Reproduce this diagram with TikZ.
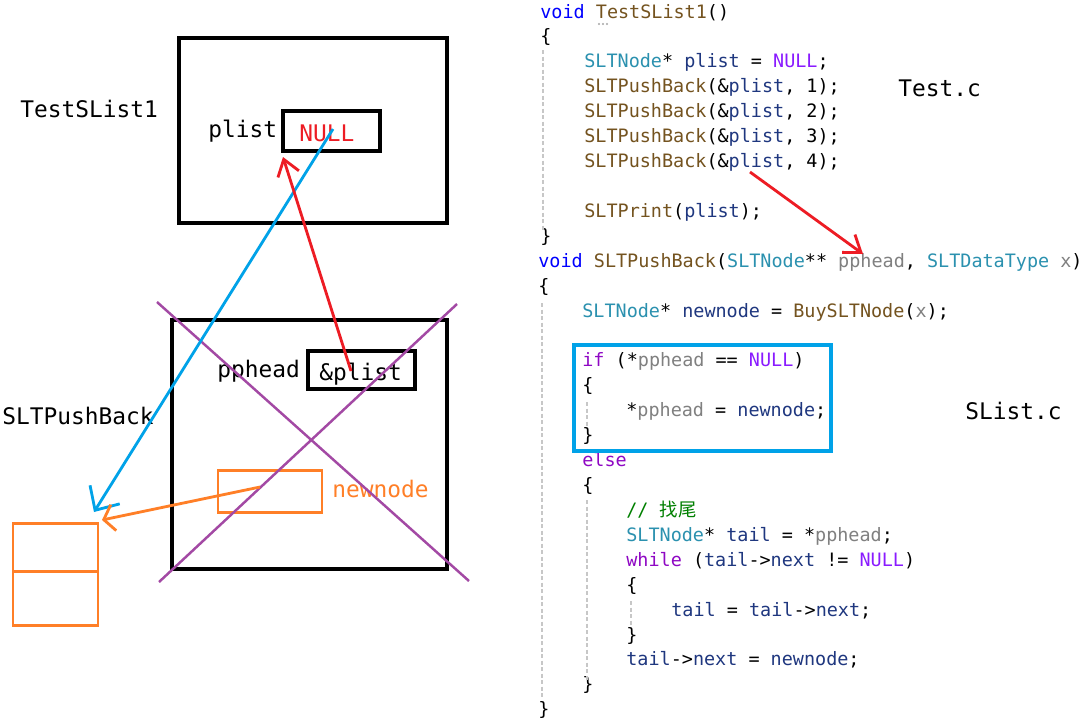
\documentclass[tikz,border=0pt]{standalone}
\usepackage{fontspec}
\usetikzlibrary{positioning,fit,arrows.meta}

\newfontfamily\codefont{DejaVu Sans Mono}
\newfontfamily\cjkfont{Noto Sans CJK SC}

% editor colours
\definecolor{kwblue}{RGB}{0,0,255}
\definecolor{ctlpurple}{RGB}{143,8,196}
\definecolor{macviolet}{RGB}{138,27,255}
\definecolor{typeteal}{RGB}{43,145,175}
\definecolor{funcbrown}{RGB}{116,83,31}
\definecolor{varnavy}{RGB}{31,55,127}
\definecolor{pargray}{RGB}{128,128,128}
\definecolor{comgreen}{RGB}{0,128,0}
% pen colours
\definecolor{pred}{RGB}{237,28,36}
\definecolor{pblue}{RGB}{0,162,232}
\definecolor{porange}{RGB}{255,127,39}
\definecolor{ppurple}{RGB}{163,73,164}

\newcommand{\cKw}[1]{\textcolor{kwblue}{#1}}
\newcommand{\cCtl}[1]{\textcolor{ctlpurple}{#1}}
\newcommand{\cMac}[1]{\textcolor{macviolet}{#1}}
\newcommand{\cTy}[1]{\textcolor{typeteal}{#1}}
\newcommand{\cFn}[1]{\textcolor{funcbrown}{#1}}
\newcommand{\cVar}[1]{\textcolor{varnavy}{#1}}
\newcommand{\cPar}[1]{\textcolor{pargray}{#1}}
\newcommand{\cCom}[1]{\textcolor{comgreen}{#1}}

\begin{document}
\begin{tikzpicture}[
  x=0.02cm, y=-0.02cm,
  code/.style={anchor=base west, inner sep=0, font={\codefont\fontsize{10.5}{12}\selectfont}},
  lbl/.style={anchor=base west, inner sep=0, font={\codefont\fontsize{13}{15}\selectfont}},
  frame/.style={draw, line width=2pt, inner sep=0},
  cell/.style={draw, line width=1.9pt, inner sep=0},
  ocell/.style={draw=porange, line width=1.7pt, inner sep=0},
  guide/.style={draw=black!22, line width=0.6pt, dash pattern=on 2.5pt off 1.2pt},
  cross/.style={draw=ppurple, line width=1.4pt},
  redarr/.style={draw=pred, line width=1.6pt, -{Straight Barb[length=0.31cm,width=0.44cm]}},
  bluearr/.style={draw=pblue, line width=1.6pt, -{Straight Barb[length=0.37cm,width=0.7cm]}},
  orgarr/.style={draw=porange, line width=1.6pt, -{Straight Barb[length=0.2cm,width=0.53cm]}},
]
\fill[white] (0,0) rectangle (1084,725);
\useasboundingbox (0,0) rectangle (1084,725);

% stack frames
\node[frame, fit={(179,38)(447,223)}] (testframe) {};
\node[frame, fit={(172,320)(447,569)}] (pushframe) {};
\node[lbl] (testname) at (20,117) {TestSList1};
\node[lbl] (pushname) at (2,424) {SLTPushBack};

\node[cell, fit={(283,111)(380,151)}] (plistbox) {};
\node[lbl] (plistlbl) at (208,137) {plist};
\node[lbl, text=pred] (nulltxt) at (299,141.5) {NULL};

\node[cell, fit={(308,351)(415,389)}] (ppheadbox) {};
\node[lbl] (ppheadlbl) at (217,377) {pphead};
\node[lbl] (addrtxt) at (319,380) {\&plist};

\node[ocell, fit={(218,470)(322,512)}] (newbox) {};
\node[lbl, text=porange] (newlbl) at (332,497) {newnode};

% new list node
\node[ocell, fit={(13,523)(98,571)}] (listdata) {};
\node[ocell, fit={(13,571)(98,625)}] (listnext) {};

% pointer ends
\coordinate (nullin) at (333,129);
\coordinate (listtip) at (94,512);
\coordinate (addrin) at (351,371);
\coordinate (plisttip) at (283,157);
\coordinate (newin) at (260,487);
\coordinate (newtip) at (102,520);
\coordinate (callin) at (750,172);
\coordinate (paramtip) at (863,254);

% frame crossed out
\coordinate (xa) at (157,302);
\coordinate (xb) at (469,581);
\coordinate (xc) at (159,582);
\coordinate (xd) at (457,304);
\draw[cross] (xa) -- (xb);
\draw[cross] (xc) -- (xd);

% code
\node[code] (c0) at (540,18) {\cKw{void} \cFn{TestSList1}()};
\foreach \dx in {599,603,607} \fill[black!35] (\dx,24) circle (0.6pt);
\node[code] (c1) at (540,42.9) {\{};
\node[code] (c2) at (584,67.8) {\cTy{SLTNode}* \cVar{plist} = \cMac{NULL};};
\node[code] (c3) at (584,92.8) {\cFn{SLTPushBack}(\&\cVar{plist}, 1);};
\node[code] (c4) at (584,117.7) {\cFn{SLTPushBack}(\&\cVar{plist}, 2);};
\node[code] (c5) at (584,142.6) {\cFn{SLTPushBack}(\&\cVar{plist}, 3);};
\node[code] (c6) at (584,167.5) {\cFn{SLTPushBack}(\&\cVar{plist}, 4);};
\node[code] (c8) at (584,217.4) {\cFn{SLTPrint}(\cVar{plist});};
\node[code] (c9) at (540,242.3) {\}};
\node[code] (c10) at (538,267.2) {\cKw{void} \cFn{SLTPushBack}(\cTy{SLTNode}** \cPar{pphead}, \cTy{SLTDataType} \cPar{x})};
\node[code] (c11) at (538,292.1) {\{};
\node[code] (c12) at (582,317) {\cTy{SLTNode}* \cVar{newnode} = \cFn{BuySLTNode}(\cPar{x});};
\node[code] (c14) at (582,366.9) {\cCtl{if} (*\cPar{pphead} == \cMac{NULL})};
\node[code] (c15) at (582,391.8) {\{};
\node[code] (c16) at (626,416.7) {*\cPar{pphead} = \cVar{newnode};};
\node[code] (c17) at (582,441.6) {\}};
\node[code] (c18) at (582,466.6) {\cCtl{else}};
\node[code] (c19) at (582,491.5) {\{};
\node[code] (c20) at (626,516.4) {\cCom{// {\cjkfont 找尾}}};
\node[code] (c21) at (626,541.3) {\cTy{SLTNode}* \cVar{tail} = *\cPar{pphead};};
\node[code] (c22) at (626,566.2) {\cCtl{while} (\cVar{tail}->\cVar{next} != \cMac{NULL})};
\node[code] (c23) at (626,591.2) {\{};
\node[code] (c24) at (671,616.1) {\cVar{tail} = \cVar{tail}->\cVar{next};};
\node[code] (c25) at (626,641) {\}};
\node[code] (c26) at (626,665.9) {\cVar{tail}->\cVar{next} = \cVar{newnode};};
\node[code] (c27) at (582,690.8) {\}};
\node[code] (c28) at (538,715.8) {\}};

% indent guides
\draw[guide] (543,50) -- (543,230);
\draw[guide] (542,303) -- (542,698);
\draw[guide] (587,402) -- (587,426);
\draw[guide] (587,500) -- (587,680);
\draw[guide] (631,601) -- (631,627);

\node[draw=pblue, line width=1.9pt, inner sep=0, fit={(574,345)(831,451)}] (ifbox) {};

\node[lbl] (testfile) at (898,96) {Test.c};
\node[lbl] (slistfile) at (965,419) {SList.c};

% pointers
\draw[bluearr] (nullin) -- (listtip);
\draw[redarr] (addrin) -- (plisttip);
\draw[orgarr] (newin) -- (newtip);
\draw[redarr] (callin) -- (paramtip);

\end{tikzpicture}
\end{document}
